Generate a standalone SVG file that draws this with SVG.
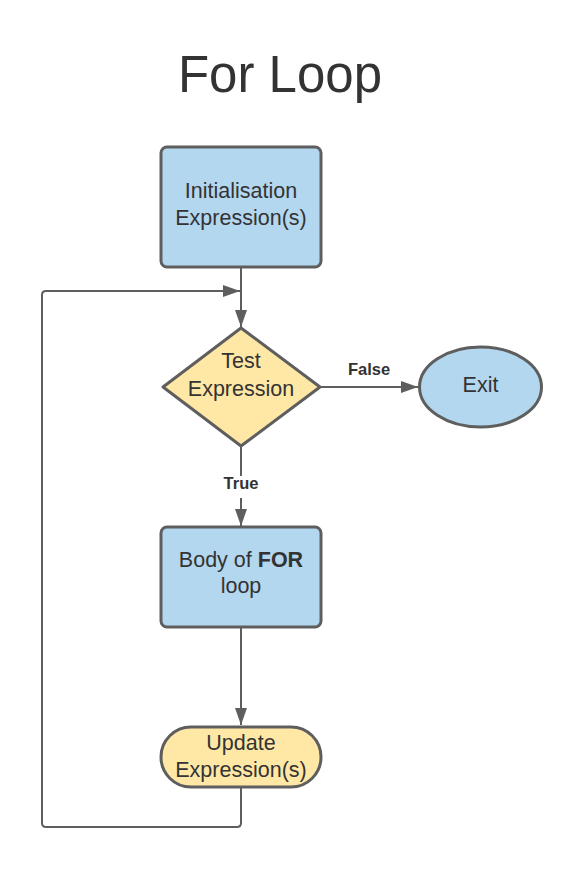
<svg xmlns="http://www.w3.org/2000/svg" width="581" height="870" viewBox="0 0 581 870">
<style>
.t{font-family:"Liberation Sans",Arial,sans-serif;fill:#333;font-size:21.5px;text-anchor:middle}
.lbl{font-family:"Liberation Sans",Arial,sans-serif;fill:#333;font-size:16.5px;font-weight:bold;text-anchor:middle}
.blue{fill:#b3d7ef;stroke:#5e5e5e;stroke-width:3}
.yel{fill:#ffe8a6;stroke:#5e5e5e;stroke-width:3}
.c{fill:none;stroke:#5e5e5e;stroke-width:2}
</style>
<defs>
<marker id="ah" markerUnits="userSpaceOnUse" markerWidth="18" markerHeight="12" refX="17" refY="6" orient="auto">
<path d="M0,0 L17,6 L0,12 Z" fill="#5e5e5e"/>
</marker>
</defs>
<rect width="581" height="870" fill="#fff"/>
<text x="280" y="92" style="font-family:'Liberation Sans',Arial,sans-serif;font-size:51px;fill:#333;text-anchor:middle">For Loop</text>
<g id="connectors">
<path class="c" d="M241,267 V327" marker-end="url(#ah)"/>
<path class="c" d="M320,387 H418" marker-end="url(#ah)"/>
<path class="c" d="M241,446 V476 M241,498 V526" marker-end="url(#ah)"/>
<path class="c" d="M241,627 V725" marker-end="url(#ah)"/>
<path class="c" d="M241,787 V823 Q241,827 237,827 H46 Q42,827 42,823 V295 Q42,291 46,291 H240" marker-end="url(#ah)"/>
<text class="lbl" x="369" y="375">False</text>
<text class="lbl" x="241" y="489">True</text>
</g>
<g id="init">
<rect class="blue" x="161" y="147" width="160" height="120" rx="6"/>
<text class="t" x="241" y="198">Initialisation</text>
<text class="t" x="241" y="225">Expression(s)</text>
</g>
<g id="test">
<path class="yel" stroke-linejoin="round" d="M241,328 L320,387 L241,446 L163,387 Z"/>
<text class="t" x="241" y="368">Test</text>
<text class="t" x="241" y="396">Expression</text>
</g>
<g id="exit">
<ellipse class="blue" cx="480.5" cy="387" rx="61" ry="40"/>
<text class="t" x="480.5" y="392">Exit</text>
</g>
<g id="body">
<rect class="blue" x="161" y="527" width="160" height="100" rx="6"/>
<text class="t" x="241" y="567">Body of <tspan font-weight="bold">FOR</tspan></text>
<text class="t" x="241" y="593">loop</text>
</g>
<g id="update">
<rect class="yel" x="161" y="727" width="160" height="60" rx="30"/>
<text class="t" x="241" y="750">Update</text>
<text class="t" x="241" y="777">Expression(s)</text>
</g>
</svg>
